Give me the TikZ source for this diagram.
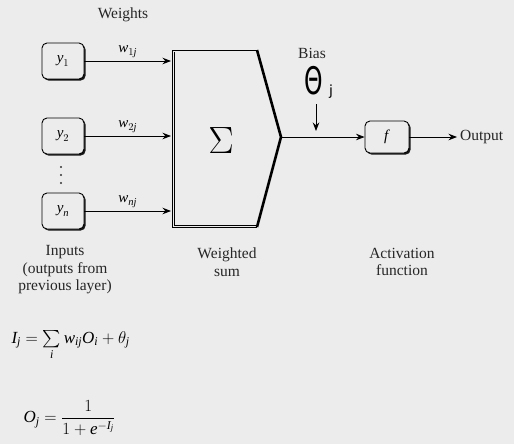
\RequirePackage{fix-cm}
\documentclass[tikz,border=0pt]{standalone}
\usepackage{amsmath}
\usepackage{fontspec}
\setmainfont{Liberation Serif}
\newfontfamily\thetafont{DejaVu Sans}
\usetikzlibrary{arrows.meta,shadows}
\definecolor{bg}{HTML}{ECECEC}
\newcommand{\mv}[1]{\textit{#1}}
\tikzset{
  inbox/.style={draw=black, line width=0.9pt, rounded corners=5pt, fill=bg,
    minimum width=42pt, minimum height=36pt, inner sep=0pt,
    font=\fontsize{15}{15}\selectfont,
    drop shadow={shadow xshift=1.6pt, shadow yshift=-1.6pt, fill=black, opacity=0.9}},
  arr/.style={line width=0.8pt, -{Stealth[length=8.5pt,width=6.5pt]}},
  lbl/.style={font=\fontsize{15.5}{17.5}\selectfont, align=center, text=black!85},
  wlbl/.style={font=\fontsize{15}{15}\selectfont},
  vdot/.style={circle, fill=black!80, inner sep=0pt, minimum size=2.2pt},
}
\begin{document}
\begin{tikzpicture}[x=1pt,y=-1pt]
\fill[bg] (0,0) rectangle (514,444);
\useasboundingbox (0,0) rectangle (514,444);

\node[lbl] (wt) at (123,15) {Weights};

\node[inbox] (y1) at (63,61) {$\mv{y}_1$};
\node[inbox] (y2) at (63,136) {$\mv{y}_2$};
\node[inbox] (yn) at (63,211) {$\mv{y}_{\mv{n}}$};
\node[vdot] (d1) at (61,167) {};
\node[vdot] (d2) at (61,175) {};
\node[vdot] (d3) at (61,183) {};

% summation block
\coordinate (s1) at (172,50);
\coordinate (s2) at (257,50);
\coordinate (tip) at (281,137);
\coordinate (s4) at (257,227);
\coordinate (s5) at (172,227);
\draw[line width=0.7pt, fill=bg] (s2) -- (s1) -- (s5) -- (s4);
\draw[line width=0.5pt] ([xshift=2pt,yshift=-2pt]s1) -- ([xshift=2pt,yshift=2pt]s5) -- ([yshift=2pt]s4);
\draw[line width=2.6pt, line join=miter] (s2) -- (tip) -- (s4);
\node[font=\fontsize{38}{38}\selectfont] (sig) at (221,141) {$\Sigma$};

\coordinate (in1) at (171,61);
\coordinate (in2) at (171,136);
\coordinate (inn) at (171,211);
\draw[arr] (y1) -- node[above=0pt, wlbl] {$\mv{w}_{1\mv{j}}$} (in1);
\draw[arr] (y2) -- node[above=0pt, wlbl] {$\mv{w}_{2\mv{j}}$} (in2);
\draw[arr] (yn) -- node[above=0pt, wlbl] {$\mv{w}_{\mv{nj}}$} (inn);

% activation
\node[inbox, minimum width=44pt, minimum height=32pt] (f) at (387,137) {\mv{f}};
\draw[arr] (tip) -- (f);
\node[lbl] (bias) at (312,53) {Bias};
\node[inner sep=0pt] (theta) at (314,81) {\thetafont\fontsize{38}{38}\selectfont\scalebox{0.62}[1]{Θ}};
\node[font=\thetafont\fontsize{14}{14}\selectfont, inner sep=0pt] (j) at (331,92) {j};
\coordinate (bt) at (316,104);
\coordinate (bb) at (316,131);
\draw[arr] (bt) -- (bb);

\coordinate (outend) at (457,137);
\draw[arr] (f) -- (outend);
\node[lbl, anchor=west, inner sep=1pt] (out) at (459,137) {Output};

% captions
\node[lbl] (inp) at (65,270) {Inputs\\(outputs from\\previous layer)};
\node[lbl] (ws) at (227,262) {Weighted\\sum};
\node[lbl] (act) at (402,262) {Activation\\function};

% equations
\node[anchor=west, font=\fontsize{17}{19}\selectfont] (eq1) at (8,345) {$\mv{I}_{\mv{j}} = \sum\limits_{\mv{i}} \mv{w}_{\mv{ij}}\mv{O}_{\mv{i}} + \theta_{\mv{j}}$};
\node[anchor=west, font=\fontsize{17}{19}\selectfont] (eq2) at (20,418) {$\mv{O}_{\mv{j}} = \dfrac{1}{1+\mv{e}^{-\mv{I}_{\mv{j}}}}$};
\end{tikzpicture}
\end{document}
